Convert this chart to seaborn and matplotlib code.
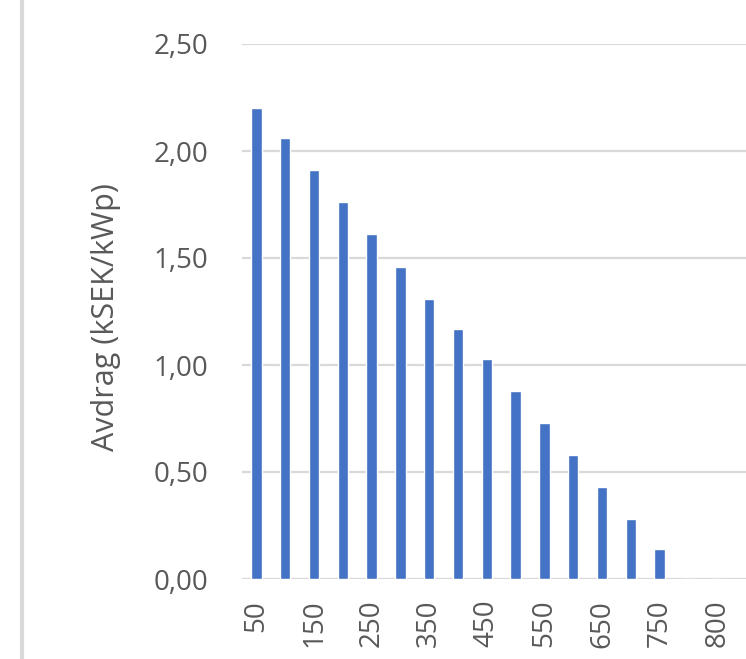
import matplotlib
matplotlib.use("Agg")
import matplotlib.pyplot as plt
import seaborn as sns
import pandas as pd
from matplotlib.lines import Line2D

# Installed capacity categories (kWp) and the deduction per kWp
capacity = ["50", "100", "150", "200", "250", "300", "350", "400", "450",
            "500", "550", "600", "650", "700", "750", "775", "800"]
avdrag = [2.20, 2.06, 1.91, 1.76, 1.61, 1.46, 1.31, 1.17, 1.03,
          0.88, 0.73, 0.58, 0.43, 0.28, 0.14, 0.0, 0.0]
y_ticks = [0.0, 0.5, 1.0, 1.5, 2.0, 2.5]
y_tick_labels = ["0,00", "0,50", "1,00", "1,50", "2,00", "2,50"]
y_title = "Avdrag (kSEK/kWp)"

df = pd.DataFrame({"capacity": capacity, "avdrag": avdrag})

sns.set_theme(style="white")
plt.rcParams["font.family"] = ["Open Sans", "DejaVu Sans"]

W, H = 746, 659
fig = plt.figure(figsize=(W / 100, H / 100), dpi=100)
ax = fig.add_axes([242 / W, 1 - 579 / H, 1 - 242 / W, (579 - 44) / H])

grid_c = "#D9D9D9"
text_c = "#595959"

sns.barplot(data=df, x="capacity", y="avdrag", order=capacity,
            color="#4472C4", saturation=1, width=0.36, ax=ax, zorder=3)

ax.set_ylim(0, 2.5)
ax.set_xlim(-0.5, 17.0)
ax.set_yticks(y_ticks)
ax.set_yticklabels(y_tick_labels)
for v in y_ticks:
    ax.axhline(v, color=grid_c, lw=1.6, zorder=1)

# only every other category is labelled on the axis
ax.set_xticks(range(0, len(capacity), 2))
ax.set_xticklabels(capacity[::2], rotation=90)

ax.tick_params(axis="y", length=0, pad=24, labelsize=20, labelcolor=text_c)
ax.tick_params(axis="x", length=0, pad=15, labelsize=20, labelcolor=text_c)
for s in ax.spines.values():
    s.set_visible(False)
ax.set_xlabel("")
ax.set_ylabel("")

fig.text(106 / W, 1 - 317 / H, y_title, rotation=90, ha="center",
         va="center", fontsize=22, color=text_c)

# thin border line along the left edge
fig.add_artist(Line2D([22 / W, 22 / W], [0, 1], color=grid_c, lw=3,
                      transform=fig.transFigure))

fig.savefig("out.png", dpi=100)
